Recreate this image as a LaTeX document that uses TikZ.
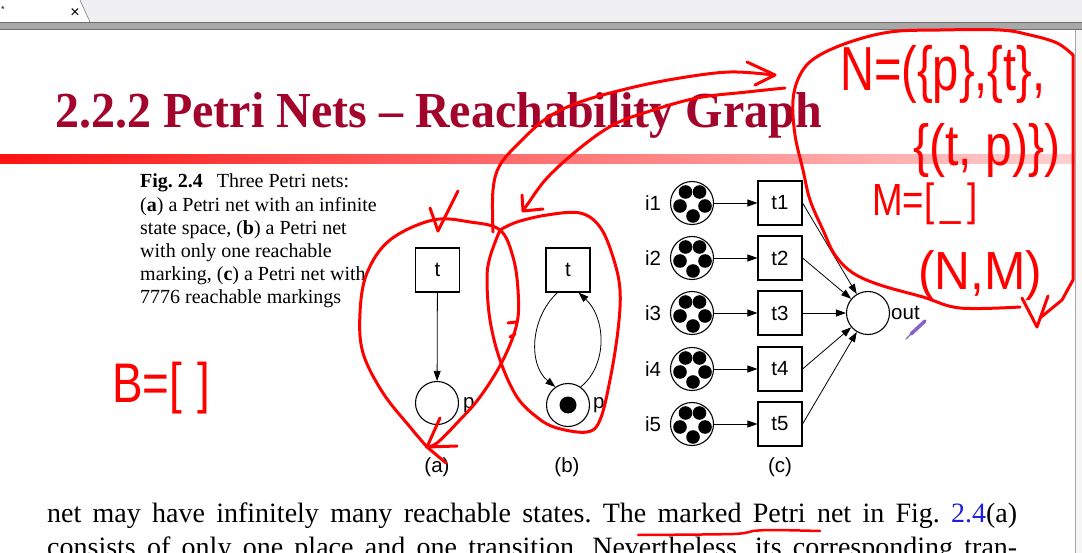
\documentclass[tikz,border=0pt]{standalone}
\usepackage{fontspec}
\usepackage{graphicx}
\setmainfont{Liberation Serif}
\setsansfont{Liberation Sans}
\usetikzlibrary{arrows.meta}
\definecolor{titlered}{RGB}{162,4,44}
\definecolor{linkblue}{RGB}{30,30,220}
\definecolor{tabgray}{RGB}{240,239,241}
\definecolor{bargray}{RGB}{168,168,168}
\definecolor{bardark}{RGB}{110,110,110}
\definecolor{edgegray}{RGB}{246,246,246}
\definecolor{penpurple}{RGB}{135,100,195}
\definecolor{inkred}{RGB}{255,0,0}
\newcommand\handtext[3]{\resizebox*{#1}{#2}{\sffamily #3}}
\begin{document}
\frenchspacing
\begin{tikzpicture}[x=1pt,y=-1pt,
  trans/.style={draw, minimum size=44pt, inner sep=0pt, line width=1.1pt, font=\sffamily\fontsize{20.5}{20.5}\selectfont},
  place/.style={draw, circle, minimum size=43pt, inner sep=0pt, line width=1.1pt},
  tok/.style={fill=black, circle, minimum size=13.6pt, inner sep=0pt},
  bigtok/.style={fill=black, circle, minimum size=17pt, inner sep=0pt},
  flow/.style={-{Triangle[length=10pt,width=7pt]}, line width=0.8pt},
  lbl/.style={font=\sffamily\fontsize{20.5}{20.5}\selectfont, inner sep=0pt},
  captxt/.style={font=\fontsize{20}{20}\selectfont, inner sep=0pt, anchor=base west},
  bodytxt/.style={font=\fontsize{28}{30}\selectfont, inner sep=0pt, anchor=base west},
  ink/.style={inkred, line width=3pt, line cap=round, line join=round},
  hand/.style={inkred, inner sep=0pt, anchor=north west}
]
\useasboundingbox (0,0) rectangle (1082,553);
\clip (0,0) rectangle (1082,553);
\fill[white] (0,0) rectangle (1082,553);

% window chrome
\fill[tabgray] (0,0) rectangle (1082,22);
\fill[white] (0,0) -- (80,0) -- (90,22) -- (0,22) -- cycle;
\draw[gray, line width=0.6pt] (80,0) -- (90,22);
\node[inner sep=0pt, font=\sffamily\fontsize{9}{9}\selectfont] (star) at (3,9) {*};
\node[inner sep=0pt, font=\sffamily\fontsize{16}{16}\selectfont] (close) at (75,13) {×};
\fill[bargray] (0,22) rectangle (1082,30);
\draw[bardark, line width=0.8pt] (0,22.4) -- (1082,22.4);
\draw[bardark, line width=0.6pt] (0,29.6) -- (1082,29.6);
\fill[edgegray] (1075,30) rectangle (1082,553);
\draw[gray!70, line width=0.8pt] (1075,30) -- (1075,553);

% title and bar
\node[inner sep=0pt, anchor=base west, text=titlered, draw=none] (title) at (55,128)
  {\scalebox{1}[1.05]{\fontsize{48}{48}\selectfont\bfseries 2.2.2 Petri Nets – Reachability Graph}};
\shade[left color={rgb,255:red,255;green,18;blue,18}, right color={rgb,255:red,255;green,208;blue,208}]
  (0,155) rectangle (1075,164);

% caption
\node[captxt] (c1) at (140,188) {\textbf{Fig. 2.4}\hspace{14pt}Three Petri nets:};
\node[captxt] (c2) at (140,211.2) {(\textbf{a}) a Petri net with an infinite};
\node[captxt] (c3) at (140,234.4) {state space, (\textbf{b}) a Petri net};
\node[captxt] (c4) at (140,257.6) {with only one reachable};
\node[captxt] (c5) at (140,280.8) {marking, (\textbf{c}) a Petri net with};
\node[captxt] (c6) at (140,304) {7776 reachable markings};

% net (a)
\node[trans] (ta) at (437.5,270) {t};
\node[place] (pa) at (437,403) {};
\node[lbl, anchor=west] (pla) at (463,405) {p};
\draw[flow] (ta) -- (pa);
\node[lbl] (capa) at (437,467) {(a)};

% net (b)
\node[trans] (tb) at (568,270) {t};
\node[place] (pb) at (568,405) {};
\node[bigtok] (tokb) at (568,405) {};
\node[lbl, anchor=west] (plb) at (593,405) {p};
\draw[flow] (tb.-115) .. controls (530,318) and (528,365) .. (pb.125);
\draw[flow] (pb.55) .. controls (608,365) and (606,318) .. (tb.-65);
\node[lbl] (capb) at (567,467) {(b)};

% net (c)
\node[place] (out) at (868,313) {};
\node[lbl, anchor=west] (lout) at (891,313) {out};
\foreach \k/\y in {1/203,2/258,3/313,4/369,5/424} {
  \node[place] (i\k) at (692,\y) {};
  \foreach \j/\dx/\dy in {1/-6.5/-11,2/7.5/-11,3/-12/3,4/13/3,5/1/13}
    \node[tok] (tk\k\j) at ({692+\dx},{\y+\dy}) {};
  \node[lbl] (li\k) at (653,\y) {i\k};
  \node[trans] (t\k) at (780,\y) {t\k};
  \draw[flow] (i\k) -- (t\k);
  \draw[flow] (t\k.east) -- (out);
}
\node[lbl] (capc) at (780,467) {(c)};

% body text
\node[bodytxt] (b1) at (47,522) {\makebox[970pt][s]{net may have infinitely many reachable states. The marked Petri net in Fig. \textcolor{linkblue}{2.4}(a)}};
\node[bodytxt] (b2) at (47,556) {\makebox[970pt][s]{consists of only one place and one transition. Nevertheless, its corresponding tran-}};

% red ink: loop (a)
\draw[ink] plot[smooth, tension=0.6] coordinates {(427,447) (410,427) (383,393) (363,353) (360,313) (367,273) (390,240) (433,220) (470,222) (500,230) (513,257) (518,290) (517,323) (503,360) (480,397) (457,423) (437,443) (427,447)};
\draw[ink] (430,208) -- (438,231) -- (458,191);
\draw[ink] (440,418) -- (427,447) -- (457,446);
\draw[ink] (427,447) -- (446,463);
\draw[ink] (508,323) -- (516,322);
\draw[ink] (510,337) -- (515,334);
% loop (b)
\draw[ink] plot[smooth, tension=0.6] coordinates {(500,230) (517,222) (547,215) (580,213) (600,227) (613,257) (620,290) (618,330) (610,380) (600,420) (587,432) (557,428) (538,418) (517,397) (500,360) (490,320) (487,280) (490,257) (500,230)};
% curve to the top arrow
\draw[ink] plot[smooth, tension=0.6] coordinates {(493,232) (493,190) (500,165) (520,142) (547,118) (580,102) (630,88) (680,78) (730,72) (773,75)};
\draw[ink] (747,62) -- (775,75) -- (755,85);
% curve back down to (b)
\draw[ink] plot[smooth, tension=0.6] coordinates {(785,88) (747,92) (697,98) (647,112) (613,125) (580,148) (547,178) (527,205) (523,210)};
\draw[ink] (522,195) -- (523,211) -- (543,209);
% big loop on the right
\draw[ink] plot[smooth, tension=0.6] coordinates {(1020,307) (960,308) (923,297) (880,285) (853,273) (835,255) (823,230) (810,200) (803,170) (795,135) (793,100) (800,75) (815,58) (847,43) (890,32) (940,30) (1000,30) (1030,35) (1057,43) (1073,55)};
\draw[ink] (1073,55) -- (1073,280) -- (1062,300) -- (1040,318);
\draw[ink] (1022,298) -- (1037,327) -- (1048,296);
% underline
\draw[ink, line width=2.5pt] plot[smooth, tension=0.5] coordinates {(638,535) (733,534) (753,531) (773,530) (820,531)};

% handwritten texts
\node[hand] (hN) at (840,45) {\handtext{205pt}{58pt}{N=(\{p\},\{t\},}};
\node[hand] (hF) at (913,123) {\handtext{147pt}{54pt}{\{(t, p)\})}};
\node[hand] (hM) at (872,183) {\handtext{105pt}{42pt}{M=[\,\_\,]}};
\node[hand] (hNM) at (918,250) {\handtext{124pt}{50pt}{(N,M)}};
\node[hand] (hB) at (112,362) {\handtext{98pt}{52pt}{B=[\,\,]}};

% pen cursor
\draw[penpurple, line width=3.5pt, line cap=round] (911,334) -- (925,321);
\draw[penpurple, line width=1.2pt, line cap=round] (906,339) -- (911,334);
\end{tikzpicture}
\end{document}
